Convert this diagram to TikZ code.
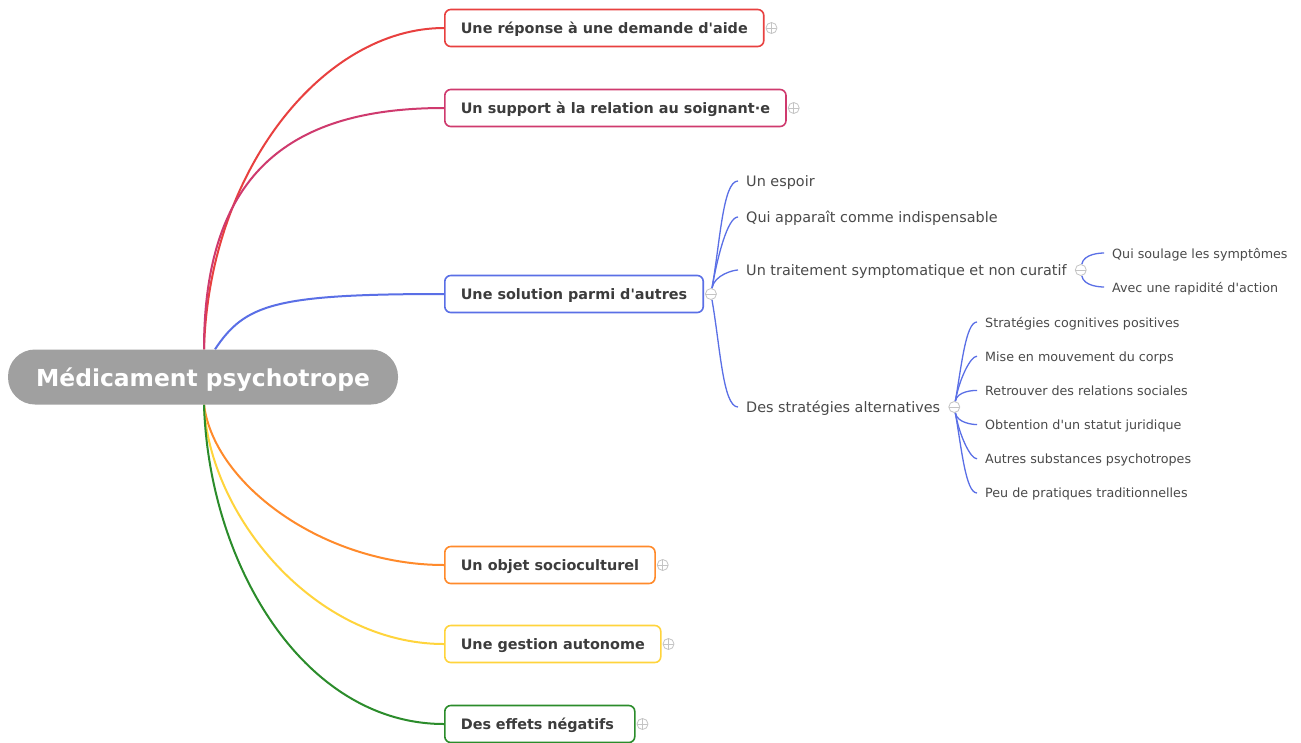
\documentclass[tikz,border=0pt]{standalone}
\usepackage{fontspec}
\setmainfont{DejaVu Sans}[Ligatures=TeXOff]
\usetikzlibrary{positioning, backgrounds, calc}
\definecolor{rootgray}{HTML}{A0A0A0}
\definecolor{brred}{HTML}{E8403F}
\definecolor{brmagenta}{HTML}{CF3A6E}
\definecolor{brblue}{HTML}{5A6FE6}
\definecolor{brorange}{HTML}{FF8A2B}
\definecolor{bryellow}{HTML}{FFD43C}
\definecolor{brgreen}{HTML}{2B8C2B}
\definecolor{txtgray}{HTML}{3C3C3C}
\definecolor{subgray}{HTML}{4A4A4A}
\definecolor{markgray}{HTML}{C4C4C4}
\tikzset{
  rootbox/.style={fill=rootgray, rounded corners=27pt, minimum width=390pt,
                  minimum height=55pt, text=white, text depth=0pt,
                  font=\fontsize{23.4}{27}\selectfont\bfseries},
  topicbox/.style={draw=#1, fill=white, line width=1.6pt, rounded corners=6pt,
                   minimum height=37pt, inner xsep=16pt, anchor=west,
                   text=txtgray, text depth=0pt,
                   font=\fontsize{14.4}{17}\selectfont\bfseries},
  subitem/.style={anchor=west, inner xsep=8pt, inner ysep=2pt, text=subgray,
                  text depth=0pt, font=\fontsize{14.4}{17}\selectfont},
  leafitem/.style={anchor=west, inner xsep=8pt, inner ysep=2pt, text=subgray,
                   text depth=0pt, font=\fontsize{12.7}{15}\selectfont},
  expander/.style={circle, draw=markgray, fill=white, line width=0.8pt,
                   minimum size=11pt, inner sep=0pt},
  plusmark/.style={expander, path picture={
      \draw[markgray, line width=0.8pt]
        (path picture bounding box.west) -- (path picture bounding box.east)
        (path picture bounding box.north) -- (path picture bounding box.south);}},
  minusmark/.style={expander, path picture={
      \draw[markgray, line width=0.8pt]
        (path picture bounding box.west) -- (path picture bounding box.east);}},
  branch/.style={draw=#1, line width=2pt},
  twig/.style={draw=brblue, line width=1.3pt},
  twigup/.style={out=80, in=180, out looseness=1.1, in looseness=0.35},
  twigdown/.style={out=-80, in=180, out looseness=1.1, in looseness=0.35},
}

\begin{document}
\begin{tikzpicture}[x=1pt, y=-1pt]
  \useasboundingbox (0,0) rectangle (1301,742);

  %% Root
  \node[rootbox] (root) at (203,377) {Médicament psychotrope};

  %% Main topics
  \node[topicbox=brred]     (t1) at (444,28)  {Une réponse à une demande d'aide};
  \node[topicbox=brmagenta] (t2) at (444,108) {Un support à la relation au soignant·e};
  \node[topicbox=brblue]    (t3) at (444,294) {Une solution parmi d'autres};
  \node[topicbox=brorange]  (t4) at (444,565) {Un objet socioculturel};
  \node[topicbox=bryellow]  (t5) at (444,644) {Une gestion autonome};
  \node[topicbox=brgreen, text width=158pt] (t6) at (444,724) {Des effets négatifs};

  \node[plusmark,  right=1pt of t1] (x1) {};
  \node[plusmark,  right=1pt of t2] (x2) {};
  \node[minusmark, right=1pt of t3] (x3) {};
  \node[plusmark,  right=1pt of t4] (x4) {};
  \node[plusmark,  right=1pt of t5] (x5) {};
  \node[plusmark,  right=1pt of t6] (x6) {};

  %% Second level
  \node[subitem] (s1) at (738,181) {Un espoir};
  \node[subitem] (s2) at (738,217) {Qui apparaît comme indispensable};
  \node[subitem] (s3) at (738,270) {Un traitement symptomatique et non curatif};
  \node[subitem] (s4) at (738,407) {Des stratégies alternatives};
  \node[minusmark, right=0pt of s3] (x33) {};
  \node[minusmark, right=0pt of s4] (x34) {};

  %% Leaves
  \node[leafitem] (l1) at (1104,253) {Qui soulage les symptômes};
  \node[leafitem] (l2) at (1104,287) {Avec une rapidité d'action};
  \foreach \txt [count=\i] in {Stratégies cognitives positives,
      Mise en mouvement du corps, Retrouver des relations sociales,
      Obtention d'un statut juridique, Autres substances psychotropes,
      Peu de pratiques traditionnelles}
    \node[leafitem] (a\i) at (977,{322+34.2*(\i-1)}) {\txt};

  %% Connectors
  \begin{scope}[on background layer]
    \fill[white] (0,0) rectangle (1301,742);
    \draw[branch=brred]     ($(root.north)+(1,0)$) .. controls +(5,-180) and +(-120,0) .. (t1.west);
    \draw[branch=brmagenta] ($(root.north)+(1,0)$) .. controls +(0,-180) and +(-150,0) .. (t2.west);
    \draw[branch=brblue]    ($(root.north)+(12,0)$) .. controls +(30,-45) and +(-170,0) .. (t3.west);
    \draw[branch=brorange]  ($(root.south)+(1,0)$) .. controls +(10,80) and +(-120,0) .. (t4.west);
    \draw[branch=bryellow]  ($(root.south)+(1,0)$) .. controls +(5,110) and +(-130,0) .. (t5.west);
    \draw[branch=brgreen]   ($(root.south)+(1,0)$) .. controls +(5,160) and +(-140,0) .. (t6.west);

    \draw[twig] (x3) to[twigup] (s1.west);
    \draw[twig] (x3) to[twigup] (s2.west);
    \draw[twig] (x3) to[twigup] (s3.west);
    \draw[twig] (x3) to[twigdown] (s4.west);

    \draw[twig] (x33) to[twigup] (l1.west);
    \draw[twig] (x33) to[twigdown] (l2.west);

    \foreach \i in {1,2,3} \draw[twig] (x34) to[twigup] (a\i.west);
    \foreach \i in {4,5,6} \draw[twig] (x34) to[twigdown] (a\i.west);
  \end{scope}
\end{tikzpicture}
\end{document}
